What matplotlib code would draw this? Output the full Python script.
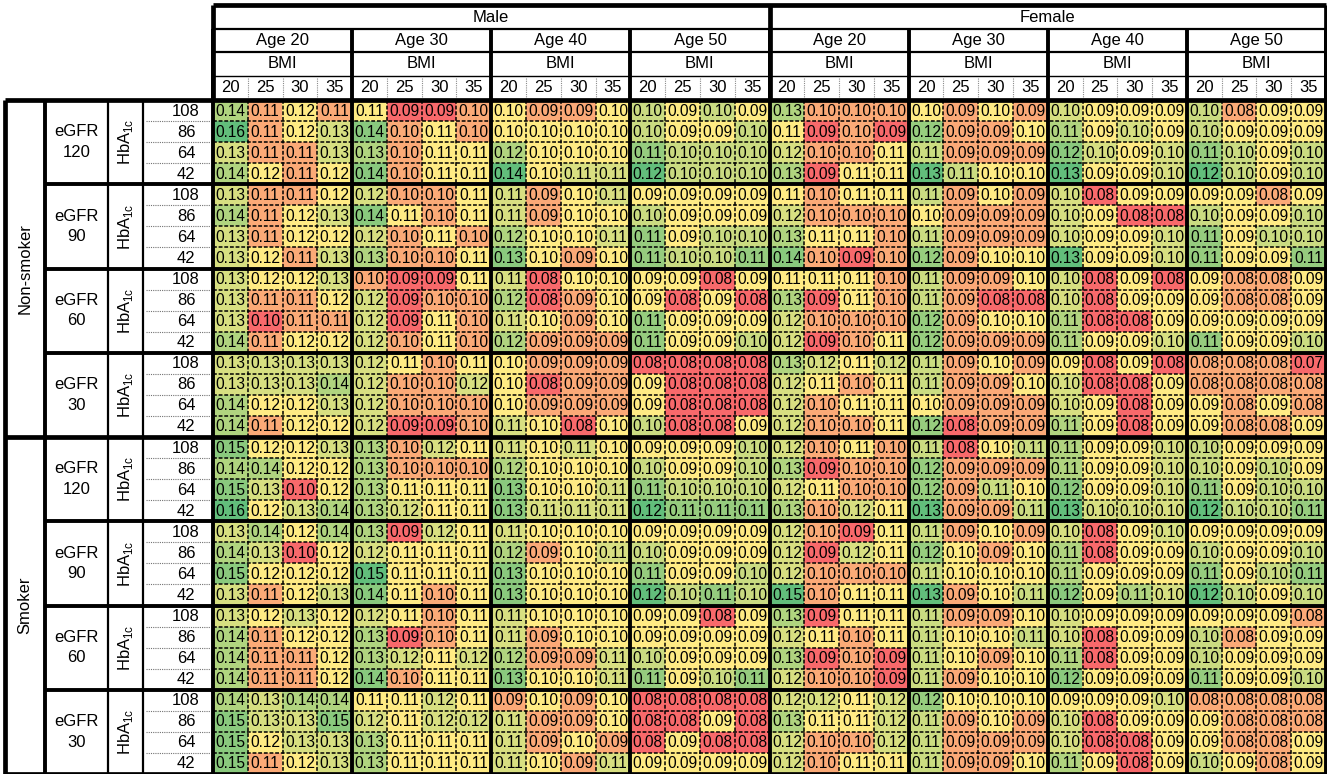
import numpy as np
import matplotlib.pyplot as plt
from matplotlib.colors import to_rgb

plt.rcParams['font.family'] = ['Liberation Sans', 'DejaVu Sans']
plt.rcParams['mathtext.fontset'] = 'custom'
plt.rcParams['mathtext.rm'] = 'Liberation Sans'

sexes = ['Male', 'Female']
ages = ['Age 20', 'Age 30', 'Age 40', 'Age 50']
bmi = ['20', '25', '30', '35']
smoking = ['Non-smoker', 'Smoker']
egfr = ['120', '90', '60', '30']
hba1c = ['108', '86', '64', '42']

# rows: eGFR (120, 90, 60, 30) x HbA1c (108, 86, 64, 42)
# cols: Age (20, 30, 40, 50) x BMI (20, 25, 30, 35)
male_nonsmoker = [
    [0.14, 0.11, 0.12, 0.11, 0.11, 0.09, 0.09, 0.10, 0.10, 0.09, 0.09, 0.10, 0.10, 0.09, 0.10, 0.09],
    [0.16, 0.11, 0.12, 0.13, 0.14, 0.10, 0.11, 0.10, 0.10, 0.10, 0.10, 0.10, 0.10, 0.09, 0.09, 0.10],
    [0.13, 0.11, 0.11, 0.13, 0.13, 0.10, 0.11, 0.11, 0.12, 0.10, 0.10, 0.10, 0.11, 0.10, 0.10, 0.10],
    [0.14, 0.12, 0.11, 0.12, 0.14, 0.10, 0.11, 0.11, 0.14, 0.10, 0.11, 0.11, 0.12, 0.10, 0.10, 0.10],
    [0.13, 0.11, 0.11, 0.12, 0.12, 0.10, 0.10, 0.11, 0.11, 0.09, 0.10, 0.11, 0.09, 0.09, 0.09, 0.09],
    [0.14, 0.11, 0.12, 0.13, 0.14, 0.11, 0.10, 0.11, 0.11, 0.09, 0.10, 0.10, 0.10, 0.09, 0.09, 0.09],
    [0.13, 0.11, 0.12, 0.12, 0.12, 0.10, 0.11, 0.10, 0.12, 0.10, 0.10, 0.11, 0.11, 0.09, 0.10, 0.10],
    [0.13, 0.12, 0.11, 0.13, 0.13, 0.10, 0.10, 0.11, 0.13, 0.10, 0.09, 0.10, 0.11, 0.10, 0.10, 0.11],
    [0.13, 0.12, 0.12, 0.13, 0.10, 0.09, 0.09, 0.11, 0.11, 0.08, 0.10, 0.10, 0.09, 0.09, 0.08, 0.09],
    [0.13, 0.11, 0.11, 0.12, 0.12, 0.09, 0.10, 0.10, 0.12, 0.08, 0.09, 0.10, 0.09, 0.08, 0.09, 0.08],
    [0.13, 0.10, 0.11, 0.11, 0.12, 0.09, 0.11, 0.10, 0.11, 0.10, 0.09, 0.10, 0.11, 0.09, 0.09, 0.09],
    [0.14, 0.11, 0.12, 0.12, 0.12, 0.10, 0.11, 0.10, 0.12, 0.09, 0.09, 0.09, 0.11, 0.09, 0.09, 0.10],
    [0.13, 0.13, 0.13, 0.13, 0.12, 0.11, 0.10, 0.11, 0.10, 0.09, 0.09, 0.09, 0.08, 0.08, 0.08, 0.08],
    [0.13, 0.13, 0.13, 0.14, 0.12, 0.10, 0.10, 0.12, 0.10, 0.08, 0.09, 0.09, 0.09, 0.08, 0.08, 0.08],
    [0.14, 0.12, 0.12, 0.13, 0.12, 0.10, 0.10, 0.10, 0.10, 0.09, 0.09, 0.09, 0.09, 0.08, 0.08, 0.08],
    [0.14, 0.11, 0.12, 0.12, 0.12, 0.09, 0.09, 0.10, 0.11, 0.10, 0.08, 0.10, 0.10, 0.08, 0.08, 0.09],
]
female_nonsmoker = [
    [0.13, 0.10, 0.10, 0.10, 0.10, 0.09, 0.10, 0.09, 0.10, 0.09, 0.09, 0.09, 0.10, 0.08, 0.09, 0.09],
    [0.11, 0.09, 0.10, 0.09, 0.12, 0.09, 0.09, 0.10, 0.11, 0.09, 0.10, 0.09, 0.10, 0.09, 0.09, 0.09],
    [0.12, 0.10, 0.10, 0.11, 0.11, 0.09, 0.09, 0.09, 0.12, 0.10, 0.09, 0.10, 0.11, 0.10, 0.09, 0.10],
    [0.13, 0.09, 0.11, 0.11, 0.13, 0.11, 0.10, 0.10, 0.13, 0.09, 0.09, 0.10, 0.12, 0.10, 0.09, 0.10],
    [0.11, 0.10, 0.11, 0.11, 0.11, 0.09, 0.10, 0.09, 0.10, 0.08, 0.09, 0.09, 0.09, 0.09, 0.08, 0.09],
    [0.12, 0.10, 0.10, 0.10, 0.10, 0.09, 0.09, 0.09, 0.10, 0.09, 0.08, 0.08, 0.10, 0.09, 0.09, 0.10],
    [0.13, 0.11, 0.11, 0.10, 0.11, 0.09, 0.09, 0.09, 0.10, 0.09, 0.09, 0.10, 0.11, 0.09, 0.10, 0.10],
    [0.14, 0.10, 0.09, 0.10, 0.12, 0.09, 0.10, 0.10, 0.13, 0.09, 0.09, 0.10, 0.11, 0.09, 0.09, 0.11],
    [0.11, 0.11, 0.11, 0.10, 0.11, 0.09, 0.09, 0.10, 0.10, 0.08, 0.09, 0.08, 0.09, 0.08, 0.08, 0.09],
    [0.13, 0.09, 0.11, 0.10, 0.11, 0.09, 0.08, 0.08, 0.10, 0.08, 0.09, 0.09, 0.09, 0.08, 0.08, 0.09],
    [0.12, 0.10, 0.10, 0.10, 0.12, 0.09, 0.10, 0.10, 0.11, 0.08, 0.08, 0.09, 0.09, 0.09, 0.09, 0.09],
    [0.12, 0.09, 0.10, 0.11, 0.12, 0.09, 0.09, 0.09, 0.11, 0.09, 0.09, 0.10, 0.11, 0.09, 0.09, 0.10],
    [0.13, 0.12, 0.11, 0.12, 0.11, 0.09, 0.10, 0.09, 0.09, 0.08, 0.09, 0.08, 0.08, 0.08, 0.08, 0.07],
    [0.12, 0.11, 0.10, 0.11, 0.11, 0.09, 0.09, 0.10, 0.10, 0.08, 0.08, 0.09, 0.08, 0.08, 0.08, 0.08],
    [0.12, 0.10, 0.11, 0.11, 0.10, 0.09, 0.09, 0.09, 0.10, 0.09, 0.08, 0.09, 0.09, 0.08, 0.09, 0.08],
    [0.12, 0.10, 0.10, 0.11, 0.12, 0.08, 0.09, 0.09, 0.11, 0.09, 0.08, 0.09, 0.09, 0.08, 0.08, 0.09],
]
male_smoker = [
    [0.15, 0.12, 0.12, 0.13, 0.13, 0.10, 0.12, 0.11, 0.11, 0.10, 0.11, 0.10, 0.09, 0.09, 0.09, 0.10],
    [0.14, 0.14, 0.12, 0.12, 0.13, 0.10, 0.10, 0.10, 0.12, 0.10, 0.10, 0.10, 0.10, 0.09, 0.09, 0.10],
    [0.15, 0.13, 0.10, 0.12, 0.13, 0.11, 0.11, 0.11, 0.13, 0.10, 0.10, 0.11, 0.11, 0.10, 0.10, 0.10],
    [0.16, 0.12, 0.13, 0.14, 0.13, 0.12, 0.11, 0.11, 0.13, 0.11, 0.11, 0.11, 0.12, 0.11, 0.11, 0.11],
    [0.13, 0.14, 0.12, 0.14, 0.13, 0.09, 0.12, 0.11, 0.11, 0.10, 0.10, 0.10, 0.09, 0.09, 0.09, 0.09],
    [0.14, 0.13, 0.10, 0.12, 0.12, 0.11, 0.11, 0.11, 0.12, 0.09, 0.10, 0.11, 0.10, 0.09, 0.09, 0.09],
    [0.15, 0.12, 0.12, 0.12, 0.15, 0.11, 0.11, 0.11, 0.13, 0.10, 0.10, 0.10, 0.11, 0.09, 0.09, 0.10],
    [0.13, 0.11, 0.12, 0.13, 0.14, 0.11, 0.10, 0.11, 0.13, 0.10, 0.10, 0.10, 0.12, 0.10, 0.11, 0.10],
    [0.13, 0.12, 0.13, 0.12, 0.12, 0.11, 0.10, 0.11, 0.11, 0.10, 0.10, 0.10, 0.09, 0.09, 0.08, 0.09],
    [0.14, 0.11, 0.12, 0.12, 0.13, 0.09, 0.10, 0.11, 0.11, 0.09, 0.10, 0.10, 0.09, 0.09, 0.09, 0.09],
    [0.14, 0.11, 0.11, 0.12, 0.13, 0.12, 0.11, 0.12, 0.12, 0.09, 0.09, 0.11, 0.10, 0.09, 0.09, 0.09],
    [0.14, 0.11, 0.11, 0.12, 0.14, 0.10, 0.11, 0.11, 0.13, 0.10, 0.10, 0.11, 0.11, 0.09, 0.10, 0.11],
    [0.14, 0.13, 0.14, 0.14, 0.11, 0.11, 0.12, 0.11, 0.09, 0.10, 0.09, 0.10, 0.08, 0.08, 0.08, 0.08],
    [0.15, 0.13, 0.13, 0.15, 0.12, 0.11, 0.12, 0.12, 0.11, 0.09, 0.09, 0.10, 0.08, 0.08, 0.09, 0.08],
    [0.15, 0.12, 0.13, 0.13, 0.13, 0.11, 0.11, 0.11, 0.11, 0.09, 0.10, 0.09, 0.08, 0.09, 0.08, 0.08],
    [0.15, 0.11, 0.12, 0.13, 0.13, 0.11, 0.11, 0.11, 0.11, 0.10, 0.09, 0.11, 0.09, 0.09, 0.09, 0.09],
]
female_smoker = [
    [0.12, 0.10, 0.11, 0.10, 0.11, 0.08, 0.10, 0.11, 0.11, 0.09, 0.09, 0.10, 0.10, 0.09, 0.09, 0.09],
    [0.13, 0.09, 0.10, 0.10, 0.12, 0.09, 0.09, 0.09, 0.11, 0.09, 0.09, 0.10, 0.10, 0.09, 0.10, 0.09],
    [0.12, 0.11, 0.10, 0.10, 0.12, 0.09, 0.11, 0.10, 0.12, 0.09, 0.09, 0.10, 0.11, 0.09, 0.10, 0.10],
    [0.13, 0.10, 0.12, 0.11, 0.13, 0.09, 0.09, 0.11, 0.13, 0.10, 0.10, 0.10, 0.12, 0.10, 0.10, 0.11],
    [0.12, 0.10, 0.09, 0.11, 0.11, 0.09, 0.10, 0.09, 0.10, 0.08, 0.09, 0.10, 0.09, 0.09, 0.09, 0.09],
    [0.12, 0.09, 0.12, 0.11, 0.12, 0.10, 0.09, 0.10, 0.11, 0.08, 0.09, 0.09, 0.10, 0.09, 0.09, 0.10],
    [0.12, 0.10, 0.10, 0.10, 0.11, 0.10, 0.10, 0.10, 0.11, 0.09, 0.09, 0.09, 0.11, 0.09, 0.10, 0.11],
    [0.15, 0.10, 0.11, 0.11, 0.13, 0.09, 0.10, 0.11, 0.12, 0.09, 0.11, 0.10, 0.12, 0.10, 0.09, 0.10],
    [0.13, 0.09, 0.11, 0.11, 0.11, 0.09, 0.09, 0.10, 0.10, 0.09, 0.09, 0.09, 0.09, 0.09, 0.09, 0.08],
    [0.12, 0.11, 0.10, 0.11, 0.11, 0.10, 0.10, 0.11, 0.10, 0.08, 0.09, 0.09, 0.10, 0.08, 0.09, 0.09],
    [0.13, 0.09, 0.10, 0.09, 0.11, 0.10, 0.09, 0.10, 0.11, 0.08, 0.09, 0.09, 0.10, 0.09, 0.09, 0.09],
    [0.12, 0.10, 0.10, 0.09, 0.11, 0.09, 0.10, 0.10, 0.12, 0.09, 0.09, 0.09, 0.11, 0.09, 0.09, 0.10],
    [0.12, 0.12, 0.11, 0.12, 0.12, 0.10, 0.10, 0.10, 0.09, 0.09, 0.09, 0.10, 0.08, 0.08, 0.08, 0.08],
    [0.13, 0.11, 0.11, 0.12, 0.11, 0.09, 0.10, 0.09, 0.10, 0.08, 0.09, 0.09, 0.09, 0.08, 0.08, 0.08],
    [0.12, 0.10, 0.10, 0.12, 0.11, 0.09, 0.09, 0.09, 0.10, 0.08, 0.08, 0.09, 0.09, 0.08, 0.08, 0.09],
    [0.12, 0.10, 0.11, 0.11, 0.11, 0.09, 0.09, 0.10, 0.11, 0.09, 0.08, 0.09, 0.10, 0.09, 0.08, 0.09],
]

values = np.block([[np.array(male_nonsmoker), np.array(female_nonsmoker)],
                   [np.array(male_smoker), np.array(female_smoker)]])
n_rows, n_cols = values.shape

# excel-like 3 colour scale, applied per sex/age column group
RED, YEL, GRN = np.array(to_rgb('#F8696B')), np.array(to_rgb('#FFEB84')), np.array(to_rgb('#63BE7B'))
rgb = np.zeros((n_rows, n_cols, 3))
for g in range(n_cols // 4):
    grp = values[:, g * 4:(g + 1) * 4]
    lo, mid, hi = grp.min(), np.percentile(grp, 50), grp.max()
    for i in range(n_rows):
        for j in range(4):
            v = grp[i, j]
            if v <= mid:
                t = 0 if mid == lo else (v - lo) / (mid - lo)
                c = RED + t * (YEL - RED)
            else:
                t = (v - mid) / (hi - mid)
                c = YEL + t * (GRN - YEL)
            rgb[i, g * 4 + j] = c

# layout in pixels
W, H = 1327, 774
X0, X1 = 213, 1326
Y0, Y1 = 100, 774
CW = (X1 - X0) / n_cols
RH = (Y1 - Y0) / n_rows
HY = [5, 29, 52, 76, 100]      # header row edges
LX = [5, 45, 108, 143, 213]    # left label column edges
THICK, MED, THIN = 2.8, 1.6, 1.0

fig = plt.figure(figsize=(W / 100, H / 100), dpi=100)
ax = fig.add_axes([0, 0, 1, 1])
ax.set_xlim(0, W)
ax.set_ylim(H, 0)
ax.axis('off')

ax.imshow(rgb, extent=(X0, X1, Y1, Y0), interpolation='nearest', aspect='auto', zorder=1)
for i in range(n_rows):
    for j in range(n_cols):
        ax.text(X0 + (j + 0.5) * CW, Y0 + (i + 0.5) * RH + 0.5, f'{values[i, j]:.2f}',
                ha='center', va='center', fontsize=11.2, zorder=3)

# dashed cell borders inside blocks
dash = (0, (2.5, 1.2))
for j in range(1, n_cols):
    if j % 4:
        ax.vlines(X0 + j * CW, Y0, Y1, colors='k', lw=1.1, linestyles=dash, zorder=2)
for i in range(1, n_rows):
    if i % 4:
        ax.hlines(Y0 + i * RH, X0, X1, colors='k', lw=1.1, linestyles=dash, zorder=2)
        ax.hlines(Y0 + i * RH, LX[3] + 3, LX[4] - 3, colors='0.45', lw=0.8,
                  linestyles=(0, (1, 1)), zorder=2)

# solid block borders
for j in range(0, n_cols + 1, 4):
    ax.vlines(X0 + j * CW, Y0, Y1, colors='k', lw=THICK, zorder=4)
    ax.vlines(X0 + j * CW, HY[1], Y0, colors='k', lw=THICK, zorder=4)
for i in range(0, n_rows + 1, 4):
    lw = THICK + 0.6 if i % 16 == 0 else THICK
    x_start = LX[0] if i % 16 == 0 else LX[1]
    ax.hlines(Y0 + i * RH, x_start, X1, colors='k', lw=lw, zorder=4)

# header
ax.hlines(HY[0], X0, X1, colors='k', lw=THICK + 0.6, zorder=4)
ax.hlines(HY[1], X0, X1, colors='k', lw=MED, zorder=4)
ax.hlines(HY[2], X0, X1, colors='k', lw=MED, zorder=4)
ax.hlines(HY[3], X0, X1, colors='k', lw=THIN, zorder=4)
ax.vlines([X0, X0 + 16 * CW, X1], HY[0], Y0, colors='k', lw=THICK + 0.6, zorder=4)
for j in range(n_cols):
    if j % 4:
        ax.vlines(X0 + j * CW, HY[3] + 2, Y0 - 2, colors='0.55', lw=0.8,
                  linestyles=(0, (1, 1)), zorder=2)

hfs = 12
for s, sex in enumerate(sexes):
    ax.text(X0 + (s + 0.5) * 16 * CW, (HY[0] + HY[1]) / 2, sex, ha='center', va='center', fontsize=hfs)
    for a, age in enumerate(ages):
        g0 = X0 + (s * 16 + a * 4) * CW
        ax.text(g0 + 2 * CW, (HY[1] + HY[2]) / 2, age, ha='center', va='center', fontsize=hfs)
        ax.text(g0 + 2 * CW, (HY[2] + HY[3]) / 2, 'BMI', ha='center', va='center', fontsize=hfs)
        for b, lab in enumerate(bmi):
            ax.text(g0 + (b + 0.5) * CW, (HY[3] + HY[4]) / 2, lab, ha='center', va='center', fontsize=hfs)

# left labels
ax.vlines(LX[0], Y0, Y1, colors='k', lw=THICK + 0.6, zorder=4)
ax.vlines(LX[1], Y0, Y1, colors='k', lw=THICK, zorder=4)
ax.vlines(LX[2], Y0, Y1, colors='k', lw=MED, zorder=4)
ax.vlines(LX[3], Y0, Y1, colors='k', lw=MED, zorder=4)
for k, sm in enumerate(smoking):
    ax.text((LX[0] + LX[1]) / 2, Y0 + (k + 0.5) * 16 * RH, sm, rotation=90,
            ha='center', va='center', fontsize=hfs)
    for e, eg in enumerate(egfr):
        b0 = Y0 + (k * 16 + e * 4) * RH
        ax.text((LX[1] + LX[2]) / 2, b0 + 2 * RH, f'eGFR\n{eg}', ha='center', va='center',
                fontsize=hfs, linespacing=1.45)
        ax.text((LX[2] + LX[3]) / 2, b0 + 2 * RH, r'HbA$_{\mathregular{1c}}$', rotation=90,
                ha='center', va='center', fontsize=hfs)
        for h, lev in enumerate(hba1c):
            ax.text((LX[3] + LX[4]) / 2 + 8, b0 + (h + 0.5) * RH + 0.5, lev,
                    ha='center', va='center', fontsize=hfs)

fig.savefig('out.png', dpi=100)
